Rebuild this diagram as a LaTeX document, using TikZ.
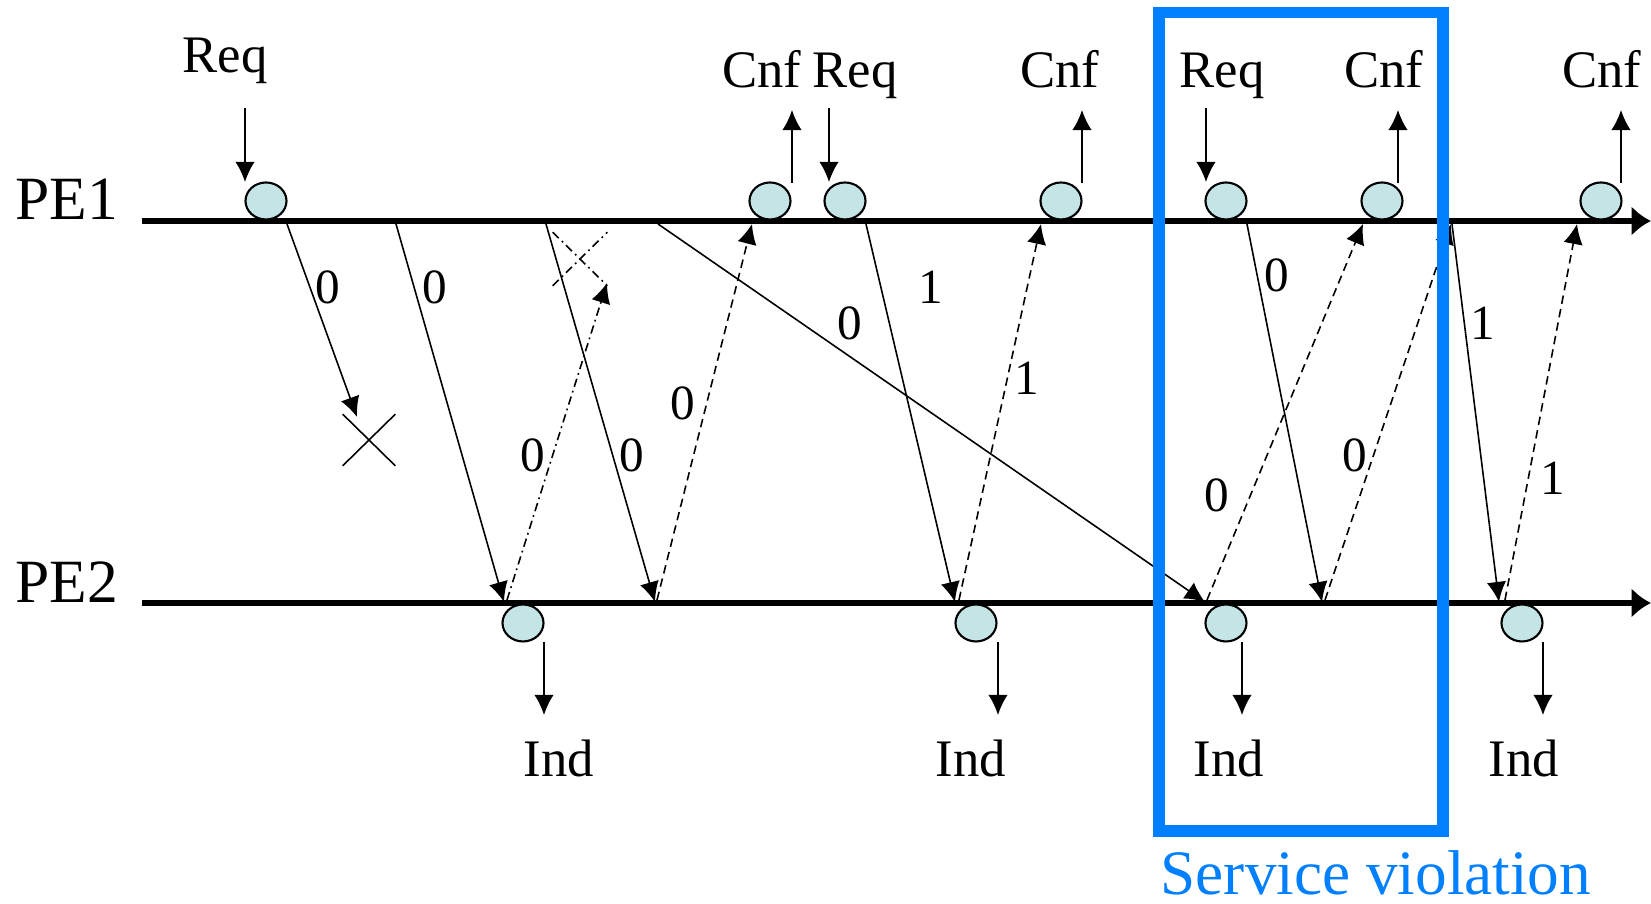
\documentclass[tikz,border=0pt]{standalone}
\usepackage{fontspec}
\setmainfont{Liberation Serif}
\usetikzlibrary{arrows.meta,shapes.geometric,shapes.misc}
\definecolor{evfill}{HTML}{C5E4E6}
\definecolor{svblue}{HTML}{0080FF}
\tikzset{
  pe/.style={font=\fontsize{17.5}{20}\selectfont, inner sep=0pt},
  prim/.style={font=\fontsize{15}{18}\selectfont, inner sep=0pt},
  seq/.style={font=\fontsize{14}{16}\selectfont, inner sep=0pt},
  ev/.style={ellipse, draw, fill=evfill, line width=0.6pt, minimum width=4.1mm, minimum height=3.7mm, inner sep=0pt},
  axis/.style={line width=1.6pt, -{Latex[length=5.5pt,width=8.5pt]}},
  msg/.style={line width=0.45pt, -{Latex[length=5.7pt,width=5.5pt]}},
  ack/.style={msg, dash pattern=on 2.4pt off 1.5pt},
  lostack/.style={msg, dash pattern=on 2.4pt off 1.2pt on 0.5pt off 1.2pt},
  lost/.style={cross out, draw, line width=0.45pt, minimum width=5.1mm, minimum height=5mm, inner sep=0pt},
  sv/.style={draw=svblue, line width=3.3pt, minimum width=28.4mm, minimum height=81.85mm, inner sep=0pt}
}

\begin{document}
\begin{tikzpicture}[x=0.1mm, y=-0.1mm]
  \useasboundingbox (0,0) rectangle (1651,904);

  % time lines
  \coordinate (A0) at (142,221);
  \coordinate (A1) at (1651,221);
  \coordinate (B0) at (142,603);
  \coordinate (B1) at (1651,603);
  \draw[axis] (A0) -- (A1);
  \draw[axis] (B0) -- (B1);
  \node[pe, anchor=base east] (pe1) at (119,220) {PE1};
  \node[pe, anchor=base east] (pe2) at (119,603) {PE2};

  % events on PE1
  \node[ev] (a1) at (266,201) {};
  \node[ev] (a2) at (770,201) {};
  \node[ev] (a3) at (845,201) {};
  \node[ev] (a4) at (1061,201) {};
  \node[ev] (a5) at (1226,201) {};
  \node[ev] (a6) at (1382,201) {};
  \node[ev] (a7) at (1601,201) {};
  % events on PE2
  \node[ev] (b1) at (523,623) {};
  \node[ev] (b2) at (976,623) {};
  \node[ev] (b3) at (1226,623) {};
  \node[ev] (b4) at (1522,623) {};

  % service primitives
  \node[prim, anchor=base] (req1) at (225,73) {Req};
  \node[prim, anchor=base] (cnf1) at (762,88) {Cnf};
  \node[prim, anchor=base] (req2) at (855,88) {Req};
  \node[prim, anchor=base] (cnf2) at (1060,88) {Cnf};
  \node[prim, anchor=base] (req3) at (1222,88) {Req};
  \node[prim, anchor=base] (cnf3) at (1384,88) {Cnf};
  \node[prim, anchor=base] (cnf4) at (1602,88) {Cnf};
  \node[prim, anchor=base] (ind1) at (559,777) {Ind};
  \node[prim, anchor=base] (ind2) at (971,777) {Ind};
  \node[prim, anchor=base] (ind3) at (1229,777) {Ind};
  \node[prim, anchor=base] (ind4) at (1524,777) {Ind};

  \coordinate (rq1a) at (245,108);  \coordinate (rq1b) at (245,182);
  \coordinate (rq2a) at (829,108);  \coordinate (rq2b) at (829,182);
  \coordinate (rq3a) at (1206,108); \coordinate (rq3b) at (1206,182);
  \coordinate (cf1a) at (792,183);  \coordinate (cf1b) at (792,110);
  \coordinate (cf2a) at (1082,183); \coordinate (cf2b) at (1082,110);
  \coordinate (cf3a) at (1398,183); \coordinate (cf3b) at (1398,110);
  \coordinate (cf4a) at (1621,183); \coordinate (cf4b) at (1621,110);
  \coordinate (in1a) at (544,642);  \coordinate (in1b) at (544,715);
  \coordinate (in2a) at (998,642);  \coordinate (in2b) at (998,715);
  \coordinate (in3a) at (1242,642); \coordinate (in3b) at (1242,715);
  \coordinate (in4a) at (1543,642); \coordinate (in4b) at (1543,715);
  \draw[msg] (rq1a) -- (rq1b);
  \draw[msg] (rq2a) -- (rq2b);
  \draw[msg] (rq3a) -- (rq3b);
  \draw[msg] (cf1a) -- (cf1b);
  \draw[msg] (cf2a) -- (cf2b);
  \draw[msg] (cf3a) -- (cf3b);
  \draw[msg] (cf4a) -- (cf4b);
  \draw[msg] (in1a) -- (in1b);
  \draw[msg] (in2a) -- (in2b);
  \draw[msg] (in3a) -- (in3b);
  \draw[msg] (in4a) -- (in4b);

  % data frames PE1 -> PE2
  \coordinate (d1s) at (287,224);  \coordinate (d1t) at (357,417);
  \coordinate (d2s) at (396,224);  \coordinate (d2t) at (504,602);
  \coordinate (d3s) at (546,224);  \coordinate (d3t) at (655,602);
  \coordinate (d4s) at (658,224);  \coordinate (d4t) at (1205,602);
  \coordinate (d5s) at (866,224);  \coordinate (d5t) at (955,602);
  \coordinate (d6s) at (1247,224); \coordinate (d6t) at (1322,602);
  \coordinate (d7s) at (1452,224); \coordinate (d7t) at (1499,602);
  \draw[msg] (d1s) -- (d1t);
  \draw[msg] (d2s) -- (d2t);
  \draw[msg] (d3s) -- (d3t);
  \draw[msg] (d4s) -- (d4t);
  \draw[msg] (d5s) -- (d5t);
  \draw[msg] (d6s) -- (d6t);
  \draw[msg] (d7s) -- (d7t);
  \node[lost] (x1) at (369,440) {};

  % acks PE2 -> PE1
  \coordinate (k1s) at (507,600);  \coordinate (k1t) at (607,283);
  \coordinate (k2s) at (657,600);  \coordinate (k2t) at (752,224);
  \coordinate (k3s) at (959,600);  \coordinate (k3t) at (1041,224);
  \coordinate (k4s) at (1207,600); \coordinate (k4t) at (1363,224);
  \coordinate (k5s) at (1325,600); \coordinate (k5t) at (1451,224);
  \coordinate (k6s) at (1505,600); \coordinate (k6t) at (1577,224);
  \draw[lostack] (k1s) -- (k1t);
  \draw[ack] (k2s) -- (k2t);
  \draw[ack] (k3s) -- (k3t);
  \draw[ack] (k4s) -- (k4t);
  \draw[ack] (k5s) -- (k5t);
  \draw[ack] (k6s) -- (k6t);
  \node[lost, dash pattern=on 2.4pt off 1.2pt on 0.5pt off 1.2pt, minimum width=5.3mm, minimum height=5.2mm] (x2) at (580,259) {};

  % sequence bits
  \node[seq] (n1) at (328,287) {0};
  \node[seq] (n2) at (435,287) {0};
  \node[seq] (n3) at (632,455) {0};
  \node[seq] (n4) at (533,455) {0};
  \node[seq] (n5) at (850,323) {0};
  \node[seq] (n6) at (683,403) {0};
  \node[seq] (n7) at (931,287) {1};
  \node[seq] (n8) at (1027,378) {1};
  \node[seq] (n9) at (1217,495) {0};
  \node[seq] (n10) at (1277,275) {0};
  \node[seq] (n11) at (1355,455) {0};
  \node[seq] (n12) at (1483,323) {1};
  \node[seq] (n13) at (1553,478) {1};

  % violation window
  \node[sv] (viol) at (1301,421.75) {};
  \node[font=\fontsize{18}{21}\selectfont, text=svblue, inner sep=0pt, anchor=base west] (violtxt) at (1160,895) {Service violation};
\end{tikzpicture}
\end{document}
